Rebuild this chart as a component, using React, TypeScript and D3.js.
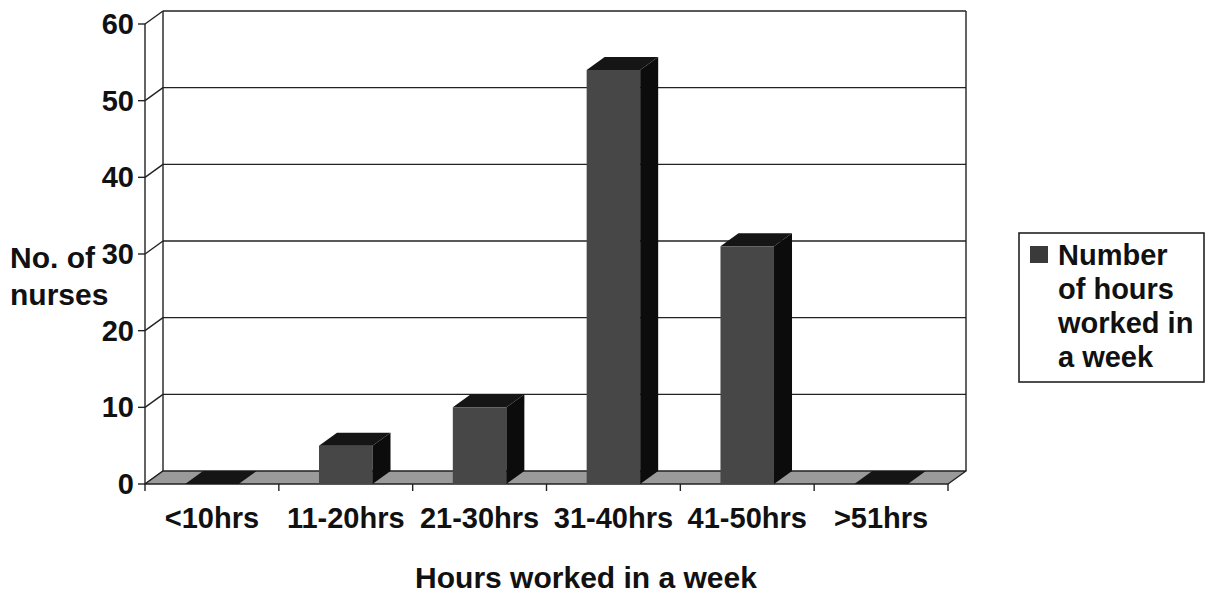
import * as d3 from 'd3';
import * as React from 'react';

const categories = ['<10hrs', '11-20hrs', '21-30hrs', '31-40hrs', '41-50hrs', '>51hrs'];
const nurses = [0, 5, 10, 54, 31, 0];
const yTicks = [0, 10, 20, 30, 40, 50, 60];
const yTitle = ['No. of', 'nurses'];
const xTitle = 'Hours worked in a week';
const legendLines = ['Number', 'of hours', 'worked in', 'a week'];

const W = 1214;
const H = 594;
const FONT = '"Liberation Sans", Arial, sans-serif';
// depth offset of the 3d box
const DX = 18;
const DY = -13;

export default function App() {
  const x = d3.scaleBand<string>()
    .domain(categories)
    .range([145, 948])
    .paddingInner(0.6)
    .paddingOuter(0.3);
  const y = d3.scaleLinear().domain([0, 60]).range([484, 24]);
  const step = (948 - 145) / categories.length;
  const bw = x.bandwidth();
  const y0 = y(0);
  const yMax = y(60);
  const left = 145;
  const right = 948;

  const pts = (p: number[][]) => p.map(d => d.join(',')).join(' ');

  return (
    <div style={{ position: 'absolute', left: 0, top: 0 }}>
      <svg width={W} height={H} style={{ display: 'block', background: '#fff' }} fontFamily={FONT} fontWeight="bold">
        {/* back wall gridlines */}
        {yTicks.filter(t => t > 0).map(t => (
          <line key={'g' + t} x1={left + DX} x2={right + DX} y1={y(t) + DY} y2={y(t) + DY} stroke="#222" strokeWidth={1.4} />
        ))}
        {/* wall edges */}
        <line x1={left + DX} x2={left + DX} y1={yMax + DY} y2={y0 + DY} stroke="#222" strokeWidth={1.4} />
        <line x1={right + DX} x2={right + DX} y1={yMax + DY} y2={y0 + DY} stroke="#222" strokeWidth={1.4} />
        <line x1={left} x2={left} y1={yMax} y2={y0} stroke="#222" strokeWidth={1.4} />

        {/* y ticks with diagonal connectors */}
        {yTicks.map(t => (
          <g key={'t' + t}>
            <line x1={left - 7} x2={left} y1={y(t)} y2={y(t)} stroke="#222" strokeWidth={1.4} />
            <line x1={left} x2={left + DX} y1={y(t)} y2={y(t) + DY} stroke="#222" strokeWidth={1.4} />
            <text x={134} y={y(t) + 10} textAnchor="end" fontSize={29} fill="#111">{t}</text>
          </g>
        ))}

        {/* floor */}
        <polygon
          points={pts([[left, y0], [right, y0], [right + DX, y0 + DY], [left + DX, y0 + DY]])}
          fill="#9a9a9a" stroke="#222" strokeWidth={1.4} strokeLinejoin="round" />

        {/* category ticks */}
        {d3.range(categories.length + 1).map(i => (
          <line key={'c' + i} x1={left + i * step} x2={left + i * step} y1={y0} y2={y0 + 7} stroke="#222" strokeWidth={1.4} />
        ))}

        {/* bars */}
        {categories.map((c, i) => {
          const bx = x(c) as number;
          const yv = y(nurses[i]);
          return (
            <g key={c}>
              <rect x={bx} y={yv} width={bw} height={y0 - yv} fill="#474747" />
              <polygon points={pts([[bx + bw, yv], [bx + bw + DX, yv + DY], [bx + bw + DX, y0 + DY], [bx + bw, y0]])} fill="#0c0c0c" />
              <polygon points={pts([[bx, yv], [bx + bw, yv], [bx + bw + DX, yv + DY], [bx + DX, yv + DY]])} fill="#151515" />
            </g>
          );
        })}

        {/* x labels */}
        {categories.map(c => (
          <text key={'l' + c} x={(x(c) as number) + bw / 2} y={528} textAnchor="middle" fontSize={29} fill="#111">{c}</text>
        ))}

        {/* axis titles */}
        <text x={586} y={588} textAnchor="middle" fontSize={30} fill="#111">{xTitle}</text>
        {yTitle.map((s, i) => (
          <text key={s} x={10} y={268 + i * 37} fontSize={30} fill="#111">{s}</text>
        ))}

        {/* legend */}
        <rect x={1019} y={233} width={185} height={149} fill="#fff" stroke="#222" strokeWidth={1.6} />
        <rect x={1030} y={246} width={18} height={17} fill="#3a3a3a" />
        {legendLines.map((s, i) => (
          <text key={s} x={1058} y={265 + i * 34} fontSize={29} fill="#111">{s}</text>
        ))}
      </svg>
    </div>
  );
}
